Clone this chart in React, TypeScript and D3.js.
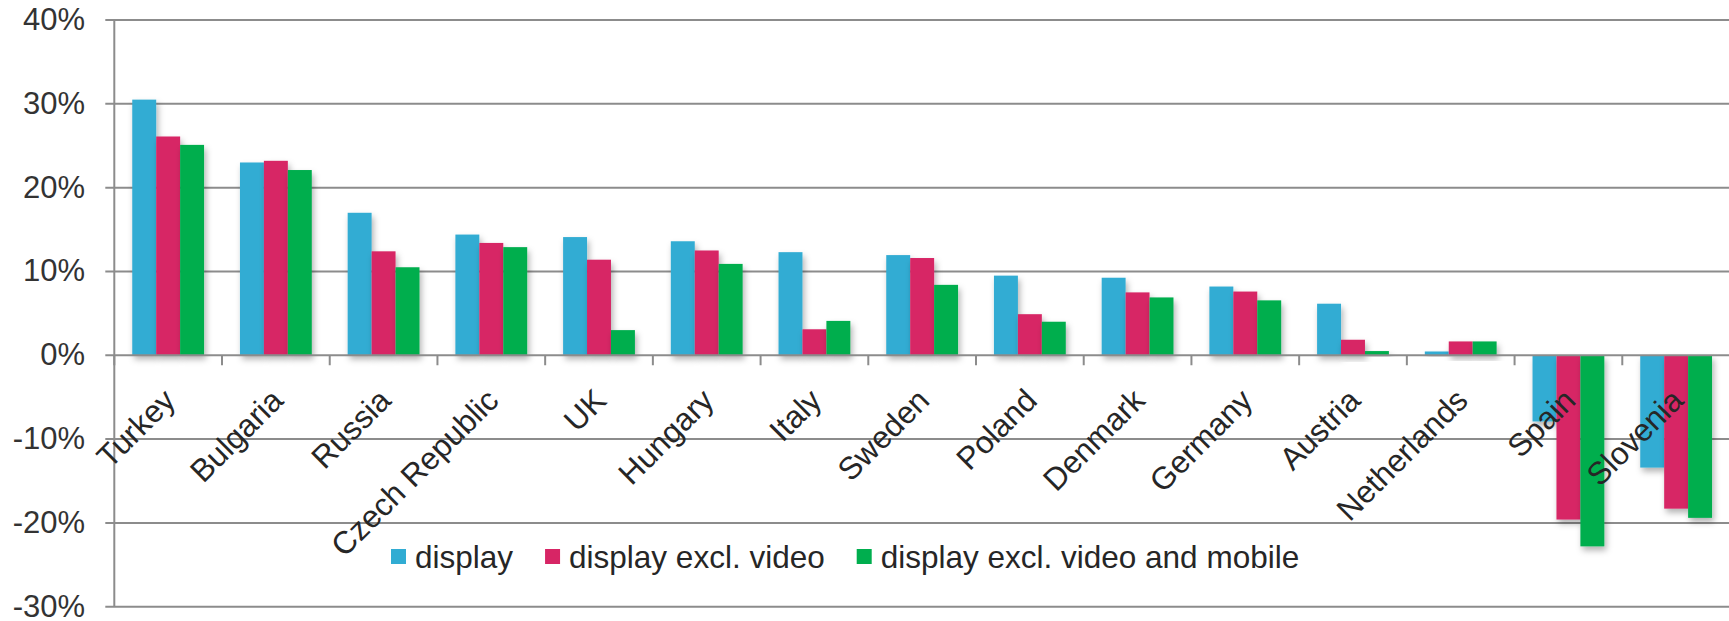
import React, { useRef, useEffect } from 'react';
import * as d3 from 'd3';

const countries = ['Turkey', 'Bulgaria', 'Russia', 'Czech Republic', 'UK', 'Hungary', 'Italy', 'Sweden', 'Poland', 'Denmark', 'Germany', 'Austria', 'Netherlands', 'Spain', 'Slovenia'];
const seriesNames = ['display', 'display excl. video', 'display excl. video and mobile'];
const display = [30.5, 23.0, 17.0, 14.4, 14.1, 13.6, 12.3, 11.95, 9.5, 9.25, 8.2, 6.15, 0.45, -7.9, -13.4];
const exclVideo = [26.1, 23.2, 12.4, 13.4, 11.4, 12.5, 3.1, 11.6, 4.9, 7.5, 7.6, 1.85, 1.65, -19.6, -18.3];
const exclVideoMobile = [25.1, 22.1, 10.5, 12.9, 3.0, 10.9, 4.1, 8.4, 4.0, 6.9, 6.55, 0.5, 1.65, -22.8, -19.4];
const yTicks = [-30, -20, -10, 0, 10, 20, 30, 40];
const colors = ['#31acd3', '#d72565', '#00ae4e'];

const W = 1729;
const H = 621;

const App = () => {
  const svgRef = useRef<SVGSVGElement>(null);

  useEffect(() => {
    const svg = d3.select(svgRef.current);
    svg.selectAll('*').remove();

    const left = 114.3, right = 1730, top = 20, bottom = 606.7;
    const font = 'Liberation Sans, Arial, sans-serif';
    const grid = '#8c8c8c';

    const x = d3.scaleBand<string>().domain(countries).range([left, right])
      .paddingInner(1 / 3).paddingOuter(1 / 6);
    const xs = d3.scaleBand<string>().domain(seriesNames).range([0, x.bandwidth()]);
    const y = d3.scaleLinear().domain([-30, 40]).range([bottom, top]);

    const defs = svg.append('defs');
    const f = defs.append('filter').attr('id', 'shadow')
      .attr('x', '-20%').attr('y', '-20%').attr('width', '160%').attr('height', '160%');
    f.append('feDropShadow').attr('dx', 2).attr('dy', 4).attr('stdDeviation', 3)
      .attr('flood-color', '#000').attr('flood-opacity', 0.3);

    // gridlines + y labels
    svg.append('g').selectAll('line').data(yTicks.filter(t => t !== 0)).enter().append('line')
      .attr('x1', left - 9).attr('x2', right)
      .attr('y1', d => y(d)).attr('y2', d => y(d))
      .attr('stroke', grid).attr('stroke-width', 2);

    svg.append('g').selectAll('text').data(yTicks).enter().append('text')
      .attr('x', 85).attr('y', d => y(d)).attr('dy', '0.32em')
      .attr('text-anchor', 'end')
      .style('font-family', font).style('font-size', '31px').style('fill', '#333')
      .text(d => `${d}%`);

    // bars
    const data = [display, exclVideo, exclVideoMobile];
    const groups = svg.append('g').selectAll('g').data(countries).enter().append('g')
      .attr('transform', d => `translate(${x(d)},0)`);
    groups.selectAll('rect')
      .data((c, i) => seriesNames.map((s, k) => ({ s, k, v: data[k][i] })))
      .enter().append('rect')
      .attr('x', d => xs(d.s)!)
      .attr('width', xs.bandwidth())
      .attr('y', d => y(Math.max(0, d.v)))
      .attr('height', d => Math.abs(y(d.v) - y(0)))
      .attr('fill', d => colors[d.k])
      .attr('filter', 'url(#shadow)');

    // axes
    svg.append('line').attr('x1', left).attr('x2', left).attr('y1', top).attr('y2', bottom)
      .attr('stroke', grid).attr('stroke-width', 2);
    svg.append('line').attr('x1', left - 9).attr('x2', right).attr('y1', y(0)).attr('y2', y(0))
      .attr('stroke', grid).attr('stroke-width', 2);
    svg.append('g').selectAll('line').data(d3.range(countries.length + 1)).enter().append('line')
      .attr('x1', i => left + i * x.step()).attr('x2', i => left + i * x.step())
      .attr('y1', y(0)).attr('y2', y(0) + 10)
      .attr('stroke', grid).attr('stroke-width', 2);

    // category labels, rotated -45deg, ending just under the category centre
    svg.append('g').selectAll('text').data(countries).enter().append('text')
      .attr('transform', d => `translate(${x(d)! + x.bandwidth() / 2 - 7},${y(0) + 31}) rotate(-45)`)
      .attr('text-anchor', 'end').attr('dy', '0.72em')
      .style('font-family', font).style('font-size', '31.5px').style('fill', '#262626')
      .text(d => d);

    // legend
    const lg = svg.append('g');
    let lx = 391;
    const ly = 557;
    seriesNames.forEach((s, k) => {
      lg.append('rect').attr('x', lx).attr('y', ly - 8).attr('width', 15).attr('height', 15)
        .attr('fill', colors[k]);
      const t = lg.append('text').attr('x', lx + 24).attr('y', ly).attr('dy', '0.35em')
        .style('font-family', font).style('font-size', '31.5px').style('fill', '#262626')
        .text(s);
      const w = (t.node() as SVGTextElement).getComputedTextLength();
      lx += 24 + w + 32;
    });
  }, []);

  return (
    <svg ref={svgRef} width={W} height={H}
      style={{ position: 'absolute', left: 0, top: 0, background: '#fff' }} />
  );
};

export default App;
